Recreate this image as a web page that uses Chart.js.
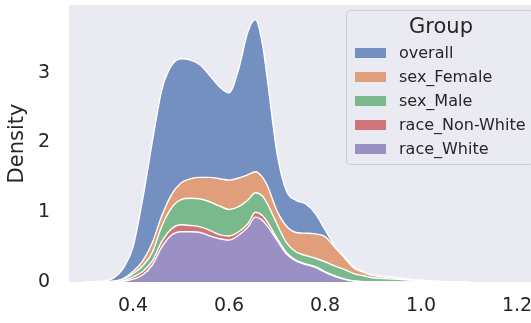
<!DOCTYPE html>
<html>
<head>
<meta charset="utf-8">
<script src="https://cdn.jsdelivr.net/npm/chart.js@4"></script>
<style>
  html, body { margin: 0; padding: 0; background: #ffffff; overflow: hidden; }
  #wrap { position: relative; width: 531px; height: 323px; overflow: hidden; }
  #legend {
    position: absolute; left: 346px; top: 10px; width: 188px; height: 155px;
    box-sizing: border-box; border: 1px solid #cfcfd6; border-radius: 4px;
    background: rgba(234,234,242,0.8);
    font-family: "DejaVu Sans", sans-serif; color: #262626;
  }
  #legend .title { position: absolute; left: 0; width: 188px; top: 2px; text-align: center; font-size: 21px; line-height: 26px; }
  #legend .row { position: absolute; left: 8px; height: 20px; display: flex; align-items: center; }
  #legend .sw { width: 31px; height: 10px; margin-right: 13px; }
  #legend .lb { font-size: 16px; line-height: 20px; white-space: nowrap; }
</style>
</head>
<body>
<div id="wrap">
  <canvas id="c" width="531" height="323"></canvas>
  <div id="legend"></div>
</div>
<script>
// x grid of the KDE curves
const xs = [0.30, 0.34, 0.36, 0.38, 0.40, 0.42, 0.44, 0.46, 0.48, 0.50, 0.52, 0.54, 0.56, 0.58, 0.60, 0.62, 0.64, 0.655, 0.67, 0.68, 0.70, 0.72, 0.74, 0.76, 0.78, 0.80, 0.82, 0.84, 0.86, 0.88, 0.90, 0.95, 1.00, 1.05, 1.10];

// per-group density (stacked bottom to top: race_White, race_Non-White, sex_Male, sex_Female, overall)
const raceWhite    = [0, 0, 0.002, 0.01, 0.04, 0.10, 0.24, 0.50, 0.67, 0.72, 0.72, 0.71, 0.66, 0.62, 0.60, 0.67, 0.79, 0.93, 0.88, 0.80, 0.60, 0.40, 0.30, 0.25, 0.21, 0.14, 0.08, 0.04, 0.012, 0.004, 0.001, 0, 0, 0, 0];
const raceNonWhite = [0, 0.001, 0.003, 0.01, 0.03, 0.05, 0.06, 0.08, 0.09, 0.10, 0.09, 0.08, 0.08, 0.06, 0.06, 0.05, 0.05, 0.07, 0.07, 0.06, 0.03, 0.02, 0.01, 0.01, 0.01, 0.01, 0.01, 0.005, 0.003, 0.001, 0, 0, 0, 0, 0];
const sexMale      = [0, 0.001, 0.005, 0.02, 0.05, 0.08, 0.12, 0.22, 0.30, 0.36, 0.39, 0.40, 0.41, 0.41, 0.38, 0.36, 0.34, 0.28, 0.28, 0.26, 0.20, 0.14, 0.12, 0.12, 0.12, 0.14, 0.14, 0.135, 0.105, 0.085, 0.059, 0.04, 0.015, 0.003, 0];
const sexFemale    = [0, 0.001, 0.002, 0.01, 0.03, 0.07, 0.14, 0.15, 0.19, 0.24, 0.28, 0.31, 0.35, 0.39, 0.42, 0.41, 0.36, 0.30, 0.27, 0.26, 0.19, 0.24, 0.28, 0.32, 0.35, 0.36, 0.27, 0.17, 0.08, 0.05, 0.035, 0.015, 0.005, 0.002, 0];
const overall      = [0.003, 0.012, 0.048, 0.15, 0.35, 0.88, 1.44, 1.80, 1.85, 1.78, 1.70, 1.61, 1.46, 1.32, 1.25, 1.56, 2.06, 2.18, 1.90, 1.52, 0.83, 0.50, 0.46, 0.42, 0.29, 0.10, 0.02, 0.02, 0.02, 0.01, 0.005, 0.005, 0.005, 0.001, 0];

const groupNames = ["overall", "sex_Female", "sex_Male", "race_Non-White", "race_White"];
const groupColors = ["#7490c1", "#e09e7a", "#7ab98b", "#ce757a", "#9b90c3"];

const xTicks = [0.4, 0.6, 0.8, 1.0, 1.2];
const yTicks = [0, 1, 2, 3];

const seriesByName = {
  "race_White": raceWhite,
  "race_Non-White": raceNonWhite,
  "sex_Male": sexMale,
  "sex_Female": sexFemale,
  "overall": overall
};

const stackOrder = ["race_White", "race_Non-White", "sex_Male", "sex_Female", "overall"];
const datasets = stackOrder.map((name, i) => ({
  label: name,
  data: xs.map((x, j) => ({ x: x, y: seriesByName[name][j] })),
  backgroundColor: groupColors[groupNames.indexOf(name)],
  borderColor: "#ffffff",
  borderWidth: 1.4,
  pointRadius: 0,
  cubicInterpolationMode: "monotone",
  fill: i === 0 ? "origin" : "-1"
}));

const bgPlugin = {
  id: "bg",
  beforeDraw(chart) {
    const a = chart.chartArea, ctx = chart.ctx;
    ctx.save();
    ctx.fillStyle = "#eaeaf2";
    ctx.fillRect(a.left, a.top, a.right - a.left, a.bottom - a.top);
    ctx.restore();
  }
};

const tickFont = { family: "DejaVu Sans", size: 19 };

new Chart(document.getElementById("c"), {
  type: "line",
  data: { datasets },
  plugins: [bgPlugin],
  options: {
    responsive: false,
    animation: false,
    layout: { padding: { top: 5, right: 0, left: 0, bottom: 0 } },
    plugins: { legend: { display: false }, tooltip: { enabled: false } },
    scales: {
      x: {
        type: "linear",
        min: 0.2667, max: 1.2292,
        grid: { display: false, drawTicks: false },
        border: { display: false },
        afterBuildTicks(s) { s.ticks = xTicks.map(v => ({ value: v })); },
        afterFit(s) { s.height = 41; s.paddingLeft = 0; s.paddingRight = 0; },
        ticks: { font: tickFont, color: "#262626", padding: 13, maxRotation: 0,
          callback: v => v.toFixed(1) }
      },
      y: {
        stacked: true,
        min: 0, max: 3.97,
        grid: { display: false, drawTicks: false },
        border: { display: false },
        afterBuildTicks(s) { s.ticks = yTicks.map(v => ({ value: v })); },
        afterFit(s) { s.width = 69; s.paddingTop = 0; s.paddingBottom = 0; },
        title: { display: true, text: "Density", font: { family: "DejaVu Sans", size: 21 }, color: "#262626", padding: { top: 5, bottom: 0 } },
        ticks: { font: tickFont, color: "#262626", padding: 19, callback: v => String(v) }
      }
    }
  }
});

// legend
const leg = document.getElementById("legend");
const t = document.createElement("div");
t.className = "title"; t.textContent = "Group";
leg.appendChild(t);
const rowCenters = [42, 66, 90, 114, 138];
groupNames.forEach((n, i) => {
  const r = document.createElement("div");
  r.className = "row";
  r.style.top = (rowCenters[i] - 10) + "px";
  const sw = document.createElement("div");
  sw.className = "sw"; sw.style.background = groupColors[i];
  const lb = document.createElement("span");
  lb.className = "lb"; lb.textContent = n;
  r.appendChild(sw); r.appendChild(lb);
  leg.appendChild(r);
});
</script>
</body>
</html>
